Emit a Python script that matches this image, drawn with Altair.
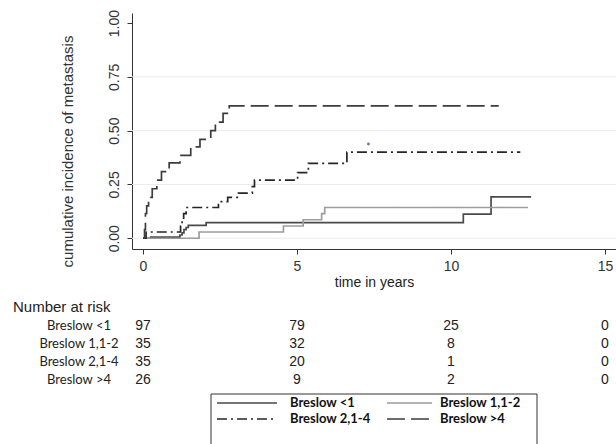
import altair as alt
import pandas as pd

# Cumulative incidence of metastasis by Breslow thickness group
groups = ["Breslow <1", "Breslow 1,1-2", "Breslow 2,1-4", "Breslow >4"]

time_lt1 = [0, 0.25, 1.2, 1.27, 1.33, 1.4, 1.47, 2.05, 10.4, 11.3, 12.6]
cif_lt1 = [0, 0.005, 0.015, 0.025, 0.04, 0.05, 0.06, 0.073, 0.112, 0.192, 0.192]

time_1_2 = [0, 1.82, 4.56, 5.2, 5.8, 5.9, 12.5]
cif_1_2 = [0, 0.029, 0.057, 0.086, 0.114, 0.143, 0.143]

time_2_4 = [0, 0.1, 1.22, 1.27, 1.32, 1.4, 2.45, 2.75, 3.1, 3.55, 3.62, 5.02, 5.37, 6.62, 12.25]
cif_2_4 = [0, 0.029, 0.057, 0.086, 0.114, 0.143, 0.17, 0.19, 0.21, 0.24, 0.27, 0.305, 0.348, 0.40, 0.40]

time_gt4 = [0, 0.05, 0.08, 0.12, 0.18, 0.3, 0.45, 0.6, 0.85, 1.2, 1.55, 1.85, 2.2, 2.35, 2.6, 2.8, 11.55]
cif_gt4 = [0, 0.04, 0.115, 0.15, 0.19, 0.23, 0.27, 0.31, 0.35, 0.385, 0.425, 0.46, 0.5, 0.54, 0.58, 0.615, 0.615]

# stray marker
dot_time = [7.32]
dot_cif = [0.438]

# Number at risk table
risk_times = [0, 5, 10, 15]
risk_lt1 = [97, 79, 25, 0]
risk_1_2 = [35, 32, 8, 0]
risk_2_4 = [35, 20, 1, 0]
risk_gt4 = [26, 9, 2, 0]

x_ticks = [0, 5, 10, 15]
y_ticks = [0, 0.25, 0.5, 0.75, 1.0]
grid_vals = [0, 0.25, 0.5, 0.75]

# line styles per group
colors = ["#4a4a4a", "#9c9c9c", "#262626", "#3c3c3c"]
dashes = [[1, 0], [1, 0], [10, 4, 2, 4], [18, 6]]

all_times = [time_lt1, time_1_2, time_2_4, time_gt4]
all_cifs = [cif_lt1, cif_1_2, cif_2_4, cif_gt4]
all_risk = [risk_lt1, risk_1_2, risk_2_4, risk_gt4]

curve_rows = []
for g, ts, vs in zip(groups, all_times, all_cifs):
    for t, v in zip(ts, vs):
        curve_rows.append({"group": g, "time": t, "cif": v})
curves = pd.DataFrame(curve_rows)

risk_rows = []
for g, counts in zip(groups, all_risk):
    for t, n in zip(risk_times, counts):
        risk_rows.append({"group": g, "time": t, "n": n})
risk = pd.DataFrame(risk_rows)

W, H = 484, 236
XDOM = [-0.357, 15.357]
YDOM = [-0.05, 1.047]
NUM_FONT = "Liberation Sans"
LBL_FONT = "Lato"

x_scale = alt.Scale(domain=XDOM, nice=False, zero=False)
y_scale = alt.Scale(domain=YDOM, nice=False, zero=False)

x_axis = alt.Axis(
    values=x_ticks, format="d", grid=False, tickSize=5, labelFontSize=14,
    labelFont=NUM_FONT, labelColor="#333333", labelPadding=5, labelFlush=False,
    title="time in years", titleFontSize=14, titleFontWeight="normal",
    titleFont=NUM_FONT, titleColor="#222222", titlePadding=2,
    domainColor="#333333", tickColor="#333333",
)
y_axis = alt.Axis(
    values=y_ticks, format=".2f", grid=False, tickSize=5, labelFontSize=14,
    labelFont=NUM_FONT, labelColor="#333333", labelPadding=6,
    labelAngle=270, labelAlign="center", labelBaseline="bottom", labelFlush=False,
    title="cumulative incidence of metastasis", titleFontSize=15,
    titleFontWeight="normal", titleFont=NUM_FONT, titleColor="#333333",
    titleAngle=270, titleAlign="center", titleBaseline="middle",
    titleX=-65, titleY=138,
    domainColor="#333333", tickColor="#333333",
)

grid = alt.Chart(pd.DataFrame({"g": grid_vals})).mark_rule(
    color="#ebebeb", strokeWidth=1
).encode(y=alt.Y("g:Q", scale=y_scale, axis=None))

lines = alt.Chart(curves).mark_line(interpolate="step-after", strokeWidth=1.7).encode(
    x=alt.X("time:Q", scale=x_scale, axis=x_axis),
    y=alt.Y("cif:Q", scale=y_scale, axis=y_axis),
    color=alt.Color("group:N", scale=alt.Scale(domain=groups, range=colors), legend=None),
    strokeDash=alt.StrokeDash("group:N", scale=alt.Scale(domain=groups, range=dashes), legend=None),
    detail="group:N",
)

dot = alt.Chart(pd.DataFrame({"time": dot_time, "cif": dot_cif})).mark_point(
    filled=True, size=8, color="#4a4aa8", opacity=0.8
).encode(
    x=alt.X("time:Q", scale=x_scale),
    y=alt.Y("cif:Q", scale=y_scale, axis=None),
)

row_scale = alt.Scale(domain=groups, range=[313, 367], padding=0)

risk_nums = alt.Chart(risk).mark_text(
    font=NUM_FONT, fontSize=14, color="#222222", baseline="middle", align="center"
).encode(
    x=alt.X("time:Q", scale=x_scale),
    y=alt.Y("group:N", scale=row_scale, axis=None),
    text="n:Q",
)

row_labels = alt.Chart(pd.DataFrame({"group": groups})).mark_text(
    font=LBL_FONT, fontSize=13, color="#222222", baseline="middle", align="center"
).encode(
    x=alt.value(-53),
    y=alt.Y("group:N", scale=row_scale, axis=None),
    text="group:N",
)

risk_title = alt.Chart(pd.DataFrame({"t": ["Number at risk"]})).mark_text(
    font=NUM_FONT, fontSize=15, color="#222222", baseline="middle", align="left"
).encode(x=alt.value(-119), y=alt.value(294), text="t:N")

# legend box
legend_box = alt.Chart(pd.DataFrame({"k": [0]})).mark_rect(
    fill="white", stroke="#333333", strokeWidth=1
).encode(x=alt.value(79), x2=alt.value(405), y=alt.value(381), y2=alt.value(445))

legend_layers = [legend_box]
col_line = [(85, 145), (255, 300)]
col_text = [158, 308]
row_y = [390, 406]
for i, g in enumerate(groups):
    c, r = i % 2, i // 2
    legend_layers.append(
        alt.Chart(pd.DataFrame({"k": [0]})).mark_rule(
            color=colors[i], strokeWidth=1.4, strokeDash=dashes[i]
        ).encode(
            x=alt.value(col_line[c][0]), x2=alt.value(col_line[c][1]),
            y=alt.value(row_y[r]),
        )
    )
    legend_layers.append(
        alt.Chart(pd.DataFrame({"label": [g]})).mark_text(
            font=LBL_FONT, fontSize=13, fontWeight="bold", color="#111111",
            align="left", baseline="middle",
        ).encode(x=alt.value(col_text[c]), y=alt.value(row_y[r]), text="label:N")
    )

chart = alt.layer(
    grid, lines, dot, risk_nums, row_labels, risk_title, *legend_layers
).resolve_scale(y="independent").properties(
    width=W, height=H,
    autosize=alt.AutoSizeParams(type="none"),
    padding={"left": 132, "top": 13, "right": 0, "bottom": 195},
    background="white",
).configure_view(stroke=None)

chart.save("out.html", embed_options={"renderer": "svg", "actions": False})
